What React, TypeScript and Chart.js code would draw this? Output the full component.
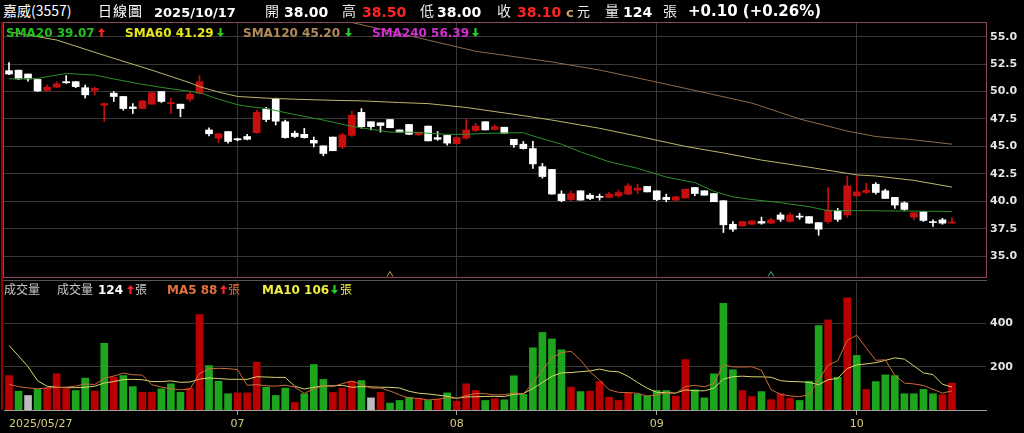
import React, { useEffect, useRef } from "react";
import { Chart, registerables } from "chart.js";

Chart.register(...registerables);

// ---------- data ----------
const dates = [
  "2025/05/27", "2025/05/28", "2025/05/29",
  "2025/06/02", "2025/06/03", "2025/06/04", "2025/06/05", "2025/06/06", "2025/06/09", "2025/06/10",
  "2025/06/11", "2025/06/12", "2025/06/13", "2025/06/16", "2025/06/17", "2025/06/18", "2025/06/19",
  "2025/06/20", "2025/06/23", "2025/06/24", "2025/06/25", "2025/06/26", "2025/06/27", "2025/06/30",
  "2025/07/01", "2025/07/02", "2025/07/03", "2025/07/04", "2025/07/07", "2025/07/08", "2025/07/09",
  "2025/07/10", "2025/07/11", "2025/07/14", "2025/07/15", "2025/07/16", "2025/07/17", "2025/07/18",
  "2025/07/21", "2025/07/22", "2025/07/23", "2025/07/24", "2025/07/25", "2025/07/28", "2025/07/29",
  "2025/07/30", "2025/07/31",
  "2025/08/01", "2025/08/04", "2025/08/05", "2025/08/06", "2025/08/07", "2025/08/08", "2025/08/11",
  "2025/08/12", "2025/08/13", "2025/08/14", "2025/08/15", "2025/08/18", "2025/08/19", "2025/08/20",
  "2025/08/21", "2025/08/22", "2025/08/25", "2025/08/26", "2025/08/27", "2025/08/28", "2025/08/29",
  "2025/09/01", "2025/09/02", "2025/09/03", "2025/09/04", "2025/09/05", "2025/09/08", "2025/09/09",
  "2025/09/10", "2025/09/11", "2025/09/12", "2025/09/15", "2025/09/16", "2025/09/17", "2025/09/18",
  "2025/09/19", "2025/09/22", "2025/09/23", "2025/09/24", "2025/09/25", "2025/09/26", "2025/09/30",
  "2025/10/01", "2025/10/02", "2025/10/03", "2025/10/07", "2025/10/08", "2025/10/09", "2025/10/13",
  "2025/10/14", "2025/10/15", "2025/10/16", "2025/10/17",
];

const open = [
  51.9, 51.95, 51.6, 51.1, 50.1, 50.4, 50.9, 50.9, 50.35, 50.1,
  48.75, 49.85, 49.55, 48.6, 48.45, 48.85, 50.0, 48.9, 48.85, 49.3,
  49.85, 46.5, 45.75, 46.35, 45.7, 45.9, 46.25, 48.4, 49.3, 47.25,
  46.2, 46.1, 45.55, 45.05, 45.85, 44.95, 46.0, 48.1, 47.25, 47.15,
  47.45, 46.5, 47.0, 46.05, 46.85, 45.8, 46.0, 45.25, 45.75, 46.45,
  47.25, 46.55, 46.75, 45.65, 45.2, 44.8, 43.15, 42.9, 40.65, 40.15,
  40.95, 40.55, 40.35, 40.35, 40.5, 40.65, 41.0, 41.35, 40.95, 40.35,
  40.1, 40.3, 41.25, 40.95, 40.7, 40.05, 37.9, 37.75, 37.9, 38.15,
  38.0, 38.75, 38.15, 38.6, 38.6, 38.05, 38.15, 39.15, 38.75, 40.5,
  40.8, 41.55, 40.95, 40.35, 39.85, 38.55, 39.05, 38.1, 38.3, 38.0,
];
const high = [
  52.65, 51.95, 51.6, 51.1, 50.6, 50.9, 51.45, 50.9, 50.6, 50.4,
  48.95, 50.0, 49.55, 48.9, 49.2, 49.9, 50.0, 49.4, 48.85, 50.05,
  51.45, 46.7, 46.15, 46.35, 45.75, 46.1, 48.3, 48.55, 49.4, 47.4,
  46.4, 46.65, 45.85, 45.05, 45.85, 46.2, 48.2, 48.45, 47.25, 47.15,
  47.45, 46.5, 47.0, 46.3, 46.85, 46.35, 46.0, 45.85, 47.45, 47.1,
  47.25, 46.95, 46.75, 45.65, 45.45, 45.45, 43.45, 42.9, 40.95, 40.95,
  40.95, 40.7, 40.65, 40.8, 41.0, 41.6, 41.55, 41.35, 40.95, 40.65,
  40.45, 41.1, 41.25, 40.95, 40.7, 40.05, 38.15, 38.15, 38.25, 38.55,
  38.45, 38.95, 38.95, 38.9, 38.6, 38.05, 41.25, 39.35, 42.3, 42.25,
  41.65, 41.7, 41.1, 40.35, 39.95, 38.95, 39.05, 38.3, 38.45, 38.5,
];
const low = [
  51.55, 51.1, 50.95, 50.0, 50.0, 50.35, 50.75, 50.35, 49.4, 49.7,
  47.25, 49.1, 48.3, 48.0, 48.45, 48.85, 49.0, 48.0, 47.7, 49.1,
  49.75, 45.95, 45.35, 45.3, 45.5, 45.6, 46.2, 47.25, 46.95, 45.75,
  45.8, 45.75, 44.95, 44.15, 44.6, 44.8, 45.9, 46.65, 46.5, 46.3,
  46.7, 46.3, 46.1, 46.0, 45.5, 45.55, 45.1, 45.2, 45.65, 46.35,
  46.5, 46.5, 46.2, 44.9, 44.75, 43.0, 42.1, 40.65, 39.95, 40.05,
  40.1, 40.15, 40.1, 40.35, 40.35, 40.6, 40.7, 40.85, 40.05, 39.95,
  40.05, 40.3, 40.5, 40.55, 39.95, 37.15, 37.25, 37.7, 37.85, 37.9,
  37.95, 38.15, 38.1, 38.35, 38.0, 36.9, 38.0, 38.15, 38.55, 40.4,
  40.7, 40.65, 40.25, 39.35, 39.15, 38.3, 38.15, 37.7, 37.9, 38.0,
];
const close = [
  51.6, 51.15, 51.15, 50.05, 50.4, 50.7, 50.8, 50.45, 49.7, 50.3,
  48.9, 49.55, 48.45, 48.45, 49.15, 49.9, 49.1, 49.0, 48.45, 49.75,
  50.9, 46.15, 46.15, 45.45, 45.6, 45.65, 48.1, 47.45, 47.3, 45.8,
  45.9, 45.8, 45.3, 44.35, 44.6, 46.05, 47.85, 46.8, 46.8, 46.9,
  46.7, 46.3, 46.1, 46.3, 45.5, 45.65, 45.3, 45.8, 46.5, 46.85,
  46.5, 46.8, 46.2, 45.15, 44.8, 43.4, 42.25, 40.65, 40.05, 40.7,
  40.1, 40.25, 40.35, 40.65, 40.8, 41.4, 41.2, 40.85, 40.15, 40.15,
  40.4, 41.1, 40.7, 40.55, 39.95, 37.85, 37.45, 38.15, 38.2, 38.0,
  38.3, 38.35, 38.75, 38.55, 38.0, 37.45, 39.2, 38.35, 41.4, 40.85,
  41.0, 40.8, 40.25, 39.65, 39.25, 38.95, 38.25, 38.05, 38.0, 38.1,
];

const volume = [
  159, 87, 67, 95, 101, 167, 98, 90, 147, 87,
  308, 151, 159, 108, 82, 82, 98, 121, 82, 101,
  441, 205, 133, 75, 79, 79, 221, 105, 67, 101,
  35, 75, 210, 141, 81, 101, 133, 136, 56, 82,
  32, 44, 59, 52, 44, 50, 79, 41, 121, 90,
  44, 52, 47, 158, 72, 287, 358, 328, 278, 105,
  85, 87, 132, 59, 44, 79, 72, 65, 90, 90,
  64, 233, 93, 56, 167, 493, 186, 90, 62, 85,
  48, 75, 55, 44, 133, 390, 416, 151, 518, 252,
  95, 131, 162, 159, 75, 75, 95, 75, 71, 124,
];
// r = up, g = down, w = unchanged
const volumeDir = (
  "rgwgrrrggr" + "grggrrgggr" + "rgggrrrggg" + "rgggrrrgwr" + "gggrgrgrrr" +
  "grgggggggr" + "grrrrrgggg" + "rrgggggrrg" + "rrrgggrgrg" + "rgggggggrr"
).split("");

// moving averages: [index, value]
const sma20 = [
  [0, 51.15], [3, 51.2], [6, 51.65], [9, 51.5], [11, 51.15], [14, 50.65], [17, 50.25], [20, 49.9],
  [22, 49.3], [24, 48.8], [25, 48.65], [27, 48.45], [30, 47.9], [33, 47.4], [36, 46.82], [40, 46.3],
  [42, 46.3], [44, 46.2], [46, 46.1], [48, 46.1], [50, 46.19], [54, 46.25], [55, 45.95], [58, 45.2],
  [60, 44.5], [63, 43.6], [66, 43.0], [69, 42.2], [72, 41.7], [74, 40.9], [76, 40.4], [78, 40.15],
  [81, 39.87], [84, 39.5], [86, 39.14], [89, 39.14], [99, 39.07],
];
const sma60 = [
  [0, 55.45], [5, 54.7], [10, 53.3], [15, 51.95], [19, 50.8], [20, 50.45], [22, 49.95], [24, 49.55],
  [27, 49.4], [30, 49.3], [34, 49.2], [37, 49.15], [41, 49.0], [44, 48.9], [48, 48.55], [50, 48.3],
  [54, 47.8], [57, 47.4], [62, 46.65], [67, 45.75], [71, 45.0], [75, 44.4], [79, 43.75], [84, 43.1],
  [89, 42.4], [91, 42.3], [95, 41.9], [99, 41.29],
];
const sma120 = [
  [30, 57.5], [36, 56.3], [42, 55.1], [49, 53.67], [57, 52.7], [62, 51.96], [67, 51.05], [72, 50.1],
  [78, 48.95], [83, 47.5], [88, 46.4], [91, 45.9], [95, 45.6], [99, 45.2],
];
const sma240Last = 56.39;

// volume MA values before enough history exists
const ma5Head = [118, 108, 102, 98];
const ma10Head = [298, 250, 200, 135, 110, 105, 103, 103, 105];

const priceTicks = [35, 37.5, 40, 42.5, 45, 47.5, 50, 52.5, 55];
const volumeTicks = [200, 400];
const markerIdx = [40, 80];
const markerColors = ["#c8a040", "#3aa88a"];
const minMonthLabelGap = 10; // month starts closer than this to the first bar get no label

// ---------- style ----------
const GRID = "#383838";
const RED = "#c80e0e";
const VRED = "#b80000";
const VGREEN = "#1ea51e";
const X_MIN = -0.525;
const X_MAX = 102.57;

const monthIdx = dates
  .map((d, i) => (i > 0 && d.slice(5, 7) !== dates[i - 1].slice(5, 7) ? i : -1))
  .filter((i) => i >= minMonthLabelGap);

const avg = (a: number[]) => a.reduce((s, v) => s + v, 0) / a.length;
const ma5 = volume.map((_, i) => (i < 4 ? ma5Head[i] : avg(volume.slice(i - 4, i + 1))));
const ma10 = volume.map((_, i) => (i < 9 ? ma10Head[i] : avg(volume.slice(i - 9, i + 1))));

const pairs = (arr: number[][]) => arr.map(([i, v]) => ({ x: i, y: v }));

function fixAxis(w: number | null, h: number | null) {
  return (ax: any) => {
    if (w !== null) ax.width = w;
    if (h !== null) ax.height = h;
    ax.paddingTop = 0;
    ax.paddingBottom = 0;
    ax.paddingLeft = 0;
    ax.paddingRight = 0;
  };
}

const markerPlugin = {
  id: "markers",
  afterDatasetsDraw(chart: any) {
    const { ctx, chartArea, scales } = chart;
    markerIdx.forEach((idx, k) => {
      const x = scales.x.getPixelForValue(idx);
      const b = chartArea.bottom - 1.5;
      ctx.save();
      ctx.strokeStyle = markerColors[k];
      ctx.lineWidth = 1;
      ctx.beginPath();
      ctx.moveTo(x - 3, b);
      ctx.lineTo(x, b - 5);
      ctx.lineTo(x + 3, b);
      ctx.stroke();
      ctx.restore();
    });
  },
};

function priceConfig(): any {
  const up = close.map((c, i) => c > open[i]);
  return {
    type: "bar",
    data: {
      datasets: [
        { type: "line", data: pairs(sma20), borderColor: "#2c8f2c", borderWidth: 1, pointRadius: 0, order: 0 },
        { type: "line", data: pairs(sma60), borderColor: "#bcb66a", borderWidth: 1, pointRadius: 0, order: 0 },
        { type: "line", data: pairs(sma120), borderColor: "#8e6a4a", borderWidth: 1, pointRadius: 0, order: 0 },
        {
          type: "bar",
          data: open.map((o, i) => ({ x: i, y: [o, close[i]] })),
          backgroundColor: up.map((u) => (u ? RED : "#ffffff")),
          barThickness: 7,
          minBarLength: 1,
          grouped: false,
          order: 1,
        },
        {
          type: "bar",
          data: low.map((l, i) => ({ x: i, y: [l, high[i]] })),
          backgroundColor: up.map((u) => (u ? RED : "#ffffff")),
          barThickness: 1,
          grouped: false,
          order: 2,
        },
      ],
    },
    options: {
      animation: false,
      responsive: false,
      maintainAspectRatio: false,
      layout: { padding: { left: 4, right: 0, top: 0, bottom: 0 } },
      plugins: { legend: { display: false }, tooltip: { enabled: false } },
      scales: {
        x: {
          type: "linear",
          min: X_MIN,
          max: X_MAX,
          offset: false,
          afterBuildTicks: (ax: any) => {
            ax.ticks = monthIdx.map((v) => ({ value: v }));
          },
          ticks: { display: false },
          grid: { color: GRID, drawTicks: false, offset: false },
          border: { display: false },
          afterFit: fixAxis(null, 0),
        },
        y: {
          position: "right",
          min: 33,
          max: 56.25,
          afterBuildTicks: (ax: any) => {
            ax.ticks = priceTicks.map((v) => ({ value: v }));
          },
          ticks: {
            color: "#e4e4e4",
            padding: 4,
            font: { family: "DejaVu Sans", size: 11, weight: "bold" },
            callback: (v: any) => Number(v).toFixed(1),
          },
          grid: { color: GRID, drawTicks: false },
          border: { display: false },
          afterFit: fixAxis(38, null),
        },
      },
    },
    plugins: [markerPlugin],
  };
}

function volumeConfig(): any {
  const colorOf = (d: string) => (d === "r" ? VRED : d === "g" ? VGREEN : "#bdbdbd");
  const xTicks = [0, ...monthIdx, X_MAX];
  const last = xTicks.length - 1;
  return {
    type: "bar",
    data: {
      datasets: [
        { type: "line", data: ma5.map((v, i) => ({ x: i, y: v })), borderColor: "#cc6a3a", borderWidth: 1, pointRadius: 0, order: 0 },
        { type: "line", data: ma10.map((v, i) => ({ x: i, y: v })), borderColor: "#d8d470", borderWidth: 1, pointRadius: 0, order: 0 },
        {
          type: "bar",
          data: volume.map((v, i) => ({ x: i, y: v })),
          backgroundColor: volumeDir.map(colorOf),
          barThickness: 7,
          grouped: false,
          order: 1,
        },
      ],
    },
    options: {
      animation: false,
      responsive: false,
      maintainAspectRatio: false,
      layout: { padding: { left: 4, right: 0, top: 0, bottom: 0 } },
      plugins: { legend: { display: false }, tooltip: { enabled: false } },
      scales: {
        x: {
          type: "linear",
          min: X_MIN,
          max: X_MAX,
          offset: false,
          afterBuildTicks: (ax: any) => {
            ax.ticks = xTicks.map((v) => ({ value: v }));
          },
          ticks: {
            align: "inner",
            autoSkip: false,
            maxRotation: 0,
            padding: 3,
            color: "#d6cc82",
            font: { family: "DejaVu Sans", size: 11 },
            callback: (v: any, i: number) =>
              i === 0 ? dates[0] : i === last ? "" : dates[Number(v)].slice(5, 7),
          },
          grid: {
            offset: false,
            tickLength: 5,
            color: (c: any) => (c.index === 0 || c.index === last ? "rgba(0,0,0,0)" : GRID),
            tickColor: (c: any) => (c.index === 0 || c.index === last ? "rgba(0,0,0,0)" : "#a0a0a0"),
          },
          border: { display: true, color: "#a0a0a0" },
          afterFit: fixAxis(null, 23),
        },
        y: {
          position: "right",
          min: 0,
          max: 591,
          afterBuildTicks: (ax: any) => {
            ax.ticks = volumeTicks.map((v) => ({ value: v }));
          },
          ticks: {
            color: "#e4e4e4",
            padding: 4,
            font: { family: "DejaVu Sans", size: 11, weight: "bold" },
          },
          grid: { color: GRID, drawTicks: false },
          border: { display: false },
          afterFit: fixAxis(38, null),
        },
      },
    },
  };
}

// ---------- text helpers ----------
function Txt(props: any) {
  const { x, base, size, color, bold, cjk, ls, children } = props;
  const k = cjk ? 0.936 : 0.846;
  return (
    <div
      style={{
        position: "absolute",
        left: x,
        top: base - k * size,
        fontSize: size,
        lineHeight: 1,
        fontFamily: cjk ? '"Noto Sans CJK TC", sans-serif' : '"DejaVu Sans", "Noto Sans CJK TC", sans-serif',
        fontWeight: bold ? 700 : 400,
        color,
        whiteSpace: "nowrap",
        letterSpacing: ls || 0,
      }}
    >
      {children}
    </div>
  );
}

function Arrow(props: any) {
  const { x, y, up } = props;
  return (
    <svg style={{ position: "absolute", left: x, top: y }} width={7} height={9} viewBox="0 0 7 9">
      <polygon
        points={up ? "3.5,0 7,4 4.6,4 4.6,9 2.4,9 2.4,4 0,4" : "3.5,9 7,5 4.6,5 4.6,0 2.4,0 2.4,5 0,5"}
        fill={up ? "#ff2020" : "#22d022"}
      />
    </svg>
  );
}

export default function App() {
  const priceRef = useRef<HTMLCanvasElement>(null);
  const volRef = useRef<HTMLCanvasElement>(null);

  useEffect(() => {
    document.body.style.margin = "0";
    document.body.style.background = "#000";
    const pc = new Chart(priceRef.current as HTMLCanvasElement, priceConfig());
    const vc = new Chart(volRef.current as HTMLCanvasElement, volumeConfig());
    return () => {
      pc.destroy();
      vc.destroy();
    };
  }, []);

  const n = close.length;
  const lastO = open[n - 1];
  const lastH = high[n - 1];
  const lastL = low[n - 1];
  const lastC = close[n - 1];
  const chg = lastC - close[n - 2];
  const pct = (chg / close[n - 2]) * 100;
  const sign = chg >= 0 ? "+" : "-";
  const lastVol = volume[n - 1];
  const m5 = Math.round(ma5[n - 1]);
  const m10 = Math.round(ma10[n - 1]);
  const s20 = sma20[sma20.length - 1][1];
  const s60 = sma60[sma60.length - 1][1];
  const s120 = sma120[sma120.length - 1][1];

  const HB = 16.5;
  const SB = 36.7;
  const VB = 294;

  return (
    <div style={{ position: "fixed", left: 0, top: 0, width: 1024, height: 433, background: "#000", overflow: "hidden" }}>
      <canvas ref={priceRef} width={1024} height={255} style={{ position: "absolute", left: 0, top: 23, width: 1024, height: 255 }} />
      <canvas ref={volRef} width={1024} height={151} style={{ position: "absolute", left: 0, top: 282, width: 1024, height: 151 }} />

      {/* frames */}
      <div style={{ position: "absolute", left: 3, top: 22, width: 984, height: 256, border: "1px solid #8a4565", boxSizing: "border-box" }} />
      <div style={{ position: "absolute", left: 3, top: 280, width: 984, height: 1, background: "#555" }} />
      <div style={{ position: "absolute", left: 1, top: 22, width: 2, height: 388, background: "#9a0000" }} />

      {/* header */}
      <Txt x={3} base={HB} size={14} color="#fff" cjk>嘉威(3557)</Txt>
      <Txt x={98} base={HB} size={14} color="#fff" cjk ls={1}>日線圖</Txt>
      <Txt x={154} base={HB} size={13} color="#fff" bold>{dates[n - 1]}</Txt>
      <Txt x={265} base={HB} size={14} color="#e8e8e8" cjk>開</Txt>
      <Txt x={284} base={HB} size={14} color="#fff" bold>{lastO.toFixed(2)}</Txt>
      <Txt x={342} base={HB} size={14} color="#e8e8e8" cjk>高</Txt>
      <Txt x={362} base={HB} size={14} color="#ff2424" bold>{lastH.toFixed(2)}</Txt>
      <Txt x={420} base={HB} size={14} color="#e8e8e8" cjk>低</Txt>
      <Txt x={437} base={HB} size={14} color="#fff" bold>{lastL.toFixed(2)}</Txt>
      <Txt x={497} base={HB} size={14} color="#e8e8e8" cjk>收</Txt>
      <Txt x={517} base={HB} size={14} color="#ff2424" bold>{lastC.toFixed(2)}</Txt>
      <Txt x={566} base={HB} size={13} color="#c8a060" bold>c</Txt>
      <Txt x={577} base={HB} size={13} color="#e8e8e8" cjk>元</Txt>
      <Txt x={605} base={HB} size={14} color="#e8e8e8" cjk>量</Txt>
      <Txt x={623} base={HB} size={14} color="#fff" bold>{lastVol}</Txt>
      <Txt x={663} base={HB} size={14} color="#e8e8e8" cjk>張</Txt>
      <Txt x={688} base={HB} size={15} color="#fff" bold>
        {`${sign}${Math.abs(chg).toFixed(2)} (${sign}${Math.abs(pct).toFixed(2)}%)`}
      </Txt>

      {/* SMA legend */}
      <Txt x={6} base={SB} size={12} color="#1fc01f" bold>{`SMA20 ${s20.toFixed(2)}`}</Txt>
      <Arrow x={98} y={28} up />
      <Txt x={125} base={SB} size={12} color="#e6e61c" bold>{`SMA60 ${s60.toFixed(2)}`}</Txt>
      <Arrow x={217} y={28} />
      <Txt x={243} base={SB} size={12} color="#b08a5a" bold>{`SMA120 ${s120.toFixed(2)}`}</Txt>
      <Arrow x={345} y={28} />
      <Txt x={372} base={SB} size={12} color="#d22ed2" bold>{`SMA240 ${sma240Last.toFixed(2)}`}</Txt>
      <Arrow x={472} y={28} />

      {/* volume legend */}
      <Txt x={4} base={VB} size={12} color="#c8c8c8" cjk>成交量</Txt>
      <Txt x={57} base={VB} size={12} color="#c8c8c8" cjk>成交量</Txt>
      <Txt x={98} base={VB} size={12} color="#fff" bold>{lastVol}</Txt>
      <Arrow x={127} y={285} up={lastVol >= volume[n - 2]} />
      <Txt x={135} base={VB} size={12} color="#c8c8c8" cjk>張</Txt>
      <Txt x={167} base={VB} size={12} color="#e0703c" bold>{`MA5 ${m5}`}</Txt>
      <Arrow x={220} y={285} up={ma5[n - 1] >= ma5[n - 2]} />
      <Txt x={228} base={VB} size={12} color="#e0703c" cjk>張</Txt>
      <Txt x={262} base={VB} size={12} color="#eeee40" bold>{`MA10 ${m10}`}</Txt>
      <Arrow x={331} y={285} up={ma10[n - 1] >= ma10[n - 2]} />
      <Txt x={340} base={VB} size={12} color="#eeee40" cjk>張</Txt>
    </div>
  );
}
